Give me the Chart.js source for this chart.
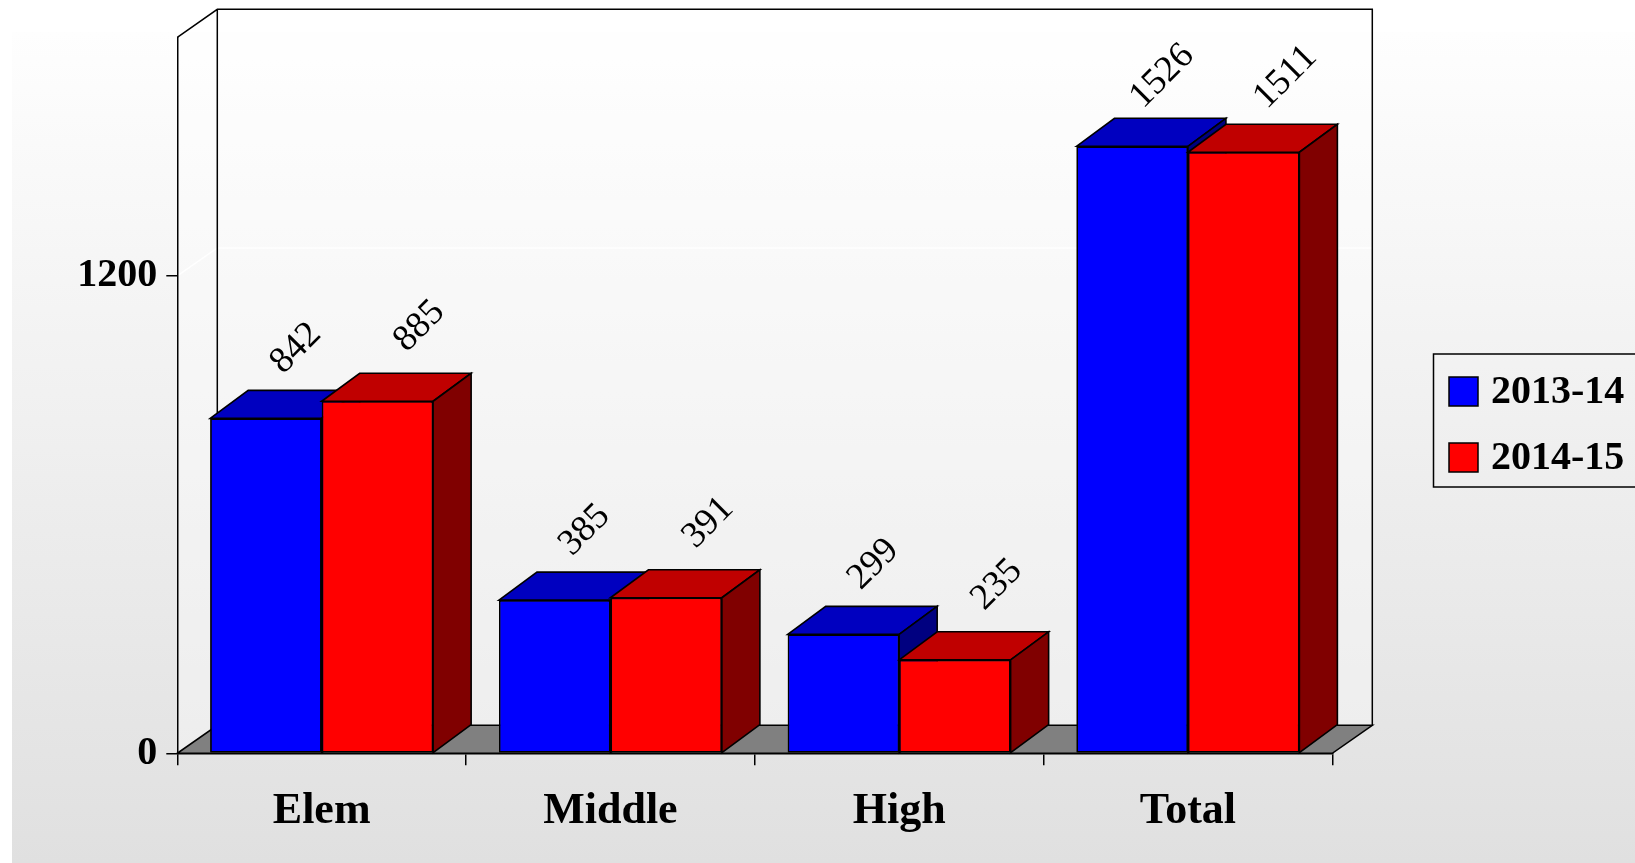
<!DOCTYPE html>
<html>
<head>
<meta charset="utf-8">
<script src="https://cdn.jsdelivr.net/npm/chart.js@4.4.1/dist/chart.umd.min.js"></script>
<style>
  html, body { margin: 0; padding: 0; background: #fff; overflow: hidden; }
  #wrap { width: 1635px; height: 863px; }
</style>
</head>
<body>
<div id="wrap"><canvas id="c" width="1635" height="863"></canvas></div>
<script>
// Enrollment by school level, two school years
const categories = ['Elem', 'Middle', 'High', 'Total'];
const seriesNames = ['2013-14', '2014-15'];
const values2013 = [842, 385, 299, 1526];
const values2014 = [885, 391, 235, 1511];
const yTicks = [0, 1200];
const yMax = 1800;

// Face shading for the extruded bars
const faceColors = [
  { front: '#0000FF', top: '#0000C0', side: '#000080' },
  { front: '#FF0000', top: '#C00000', side: '#800000' }
];
const BAR_DX = 38, BAR_DY = -28;    // bar depth offset
const WALL_DX = 40, WALL_DY = -28;  // wall / floor depth offset
const labelOffsets = [{ dx: 30, dy: -70 }, { dx: 42, dy: -75 }];
const SERIF = '"Liberation Serif", "Times New Roman", serif';

function poly(ctx, pts, fill) {
  ctx.beginPath();
  ctx.moveTo(pts[0][0], pts[0][1]);
  for (let i = 1; i < pts.length; i++) ctx.lineTo(pts[i][0], pts[i][1]);
  ctx.closePath();
  if (fill) { ctx.fillStyle = fill; ctx.fill(); }
  ctx.strokeStyle = '#000';
  ctx.lineWidth = 1.6;
  ctx.lineJoin = 'miter';
  ctx.stroke();
}

const box3d = {
  id: 'box3d',
  beforeDraw(chart) {
    const { ctx, chartArea: a, width, height } = chart;
    const L = a.left, R = a.right, T = a.top, B = a.bottom;
    ctx.save();
    // backdrop
    ctx.fillStyle = '#ffffff';
    ctx.fillRect(0, 0, width, height);
    const g = ctx.createLinearGradient(0, 32, 0, height);
    g.addColorStop(0, '#fefefe');
    g.addColorStop(1, '#e0e0e0');
    ctx.fillStyle = g;
    ctx.fillRect(12, 32, width - 12, height - 32);

    // side wall + back wall
    ctx.beginPath();
    ctx.moveTo(L, T);
    ctx.lineTo(L + WALL_DX, T + WALL_DY);
    ctx.lineTo(R + WALL_DX, T + WALL_DY);
    ctx.lineTo(R + WALL_DX, B + WALL_DY);
    ctx.lineTo(L + WALL_DX, B + WALL_DY);
    ctx.lineTo(L, B);
    ctx.closePath();
    ctx.fillStyle = 'rgba(255,255,255,0.35)';
    ctx.fill();

    // gridlines on the walls
    const ys = chart.scales.y;
    ctx.strokeStyle = 'rgba(255,255,255,0.95)';
    ctx.lineWidth = 1.5;
    yTicks.filter(v => v > 0).forEach(v => {
      const y = ys.getPixelForValue(v);
      ctx.beginPath();
      ctx.moveTo(L, y);
      ctx.lineTo(L + WALL_DX, y + WALL_DY);
      ctx.lineTo(R + WALL_DX, y + WALL_DY);
      ctx.stroke();
    });

    // floor
    poly(ctx, [[L, B], [R, B], [R + WALL_DX, B + WALL_DY], [L + WALL_DX, B + WALL_DY]], '#808080');

    // wall edges
    ctx.strokeStyle = '#000';
    ctx.lineWidth = 1.5;
    ctx.beginPath();
    ctx.moveTo(L, T);
    ctx.lineTo(L + WALL_DX, T + WALL_DY);
    ctx.lineTo(R + WALL_DX, T + WALL_DY);
    ctx.lineTo(R + WALL_DX, B + WALL_DY);
    ctx.moveTo(L + WALL_DX, T + WALL_DY);
    ctx.lineTo(L + WALL_DX, B + WALL_DY);
    ctx.stroke();
    ctx.restore();
  },
  afterDatasetsDraw(chart) {
    const ctx = chart.ctx;
    const metas = chart.data.datasets.map((d, i) => chart.getDatasetMeta(i));
    ctx.save();
    for (let j = 0; j < categories.length; j++) {
      metas.forEach((meta, di) => {
        const el = meta.data[j];
        el.draw(ctx);
        const { x, y, base, width } = el.getProps(['x', 'y', 'base', 'width'], true);
        const l = x - width / 2, r = x + width / 2;
        const c = faceColors[di];
        poly(ctx, [[l, y], [l + BAR_DX, y + BAR_DY], [r + BAR_DX, y + BAR_DY], [r, y]], c.top);
        poly(ctx, [[r, y], [r + BAR_DX, y + BAR_DY], [r + BAR_DX, base + BAR_DY], [r, base]], c.side);
      });
    }
    ctx.restore();
  },
  afterDraw(chart) {
    const ctx = chart.ctx;
    ctx.save();
    // value labels
    ctx.font = '37px ' + SERIF;
    ctx.fillStyle = '#000';
    ctx.textAlign = 'center';
    ctx.textBaseline = 'middle';
    chart.data.datasets.forEach((ds, di) => {
      const meta = chart.getDatasetMeta(di);
      meta.data.forEach((el, j) => {
        const { x, y } = el.getProps(['x', 'y'], true);
        const o = labelOffsets[di];
        ctx.save();
        ctx.translate(x + o.dx, y + o.dy);
        ctx.rotate(-Math.PI / 4);
        ctx.fillText(String(ds.data[j]), 0, 0);
        ctx.restore();
      });
    });

    // legend
    ctx.strokeStyle = '#000';
    ctx.lineWidth = 1.5;
    ctx.strokeRect(1433.5, 354, 260, 133);
    ctx.font = 'bold 40px ' + SERIF;
    ctx.textAlign = 'left';
    ctx.textBaseline = 'middle';
    chart.data.datasets.forEach((ds, i) => {
      const top = 377 + i * 66;
      ctx.fillStyle = ds.backgroundColor;
      ctx.fillRect(1449, top, 29, 29);
      ctx.strokeRect(1449, top, 29, 29);
      ctx.fillStyle = '#000';
      ctx.fillText(ds.label, 1491, top + 16);
    });
    ctx.restore();
  }
};

new Chart(document.getElementById('c'), {
  type: 'bar',
  data: {
    labels: categories,
    datasets: [
      { label: seriesNames[0], data: values2013, backgroundColor: faceColors[0].front },
      { label: seriesNames[1], data: values2014, backgroundColor: faceColors[1].front }
    ]
  },
  options: {
    responsive: false,
    animation: false,
    devicePixelRatio: 1,
    layout: { padding: { left: 0, top: 37.3, right: 302.7, bottom: 0 } },
    datasets: {
      bar: {
        categoryPercentage: 0.772,
        barPercentage: 1.0,
        borderColor: '#000',
        borderWidth: 1.6,
        borderSkipped: false
      }
    },
    plugins: {
      legend: { display: false },
      tooltip: { enabled: false }
    },
    scales: {
      x: {
        grid: { display: true, drawOnChartArea: false, drawTicks: true, tickLength: 12, color: '#000', lineWidth: 1.5, offset: true },
        border: { display: true, color: '#000', width: 1.5 },
        ticks: { color: '#000', font: { family: SERIF, size: 44, weight: 'bold' }, padding: 20, maxRotation: 0 },
        afterFit(s) { s.height = 863 - 753.3; }
      },
      y: {
        min: 0,
        max: yMax,
        grid: { display: true, drawOnChartArea: false, drawTicks: true, tickLength: 11, color: '#000', lineWidth: 1.5 },
        border: { display: true, color: '#000', width: 1.5 },
        ticks: { color: '#000', font: { family: SERIF, size: 40, weight: 'bold' }, padding: 9, callback: v => String(v) },
        afterBuildTicks(s) { s.ticks = yTicks.map(v => ({ value: v })); },
        afterFit(s) { s.width = 177.3; }
      }
    }
  },
  plugins: [box3d]
});
</script>
</body>
</html>
